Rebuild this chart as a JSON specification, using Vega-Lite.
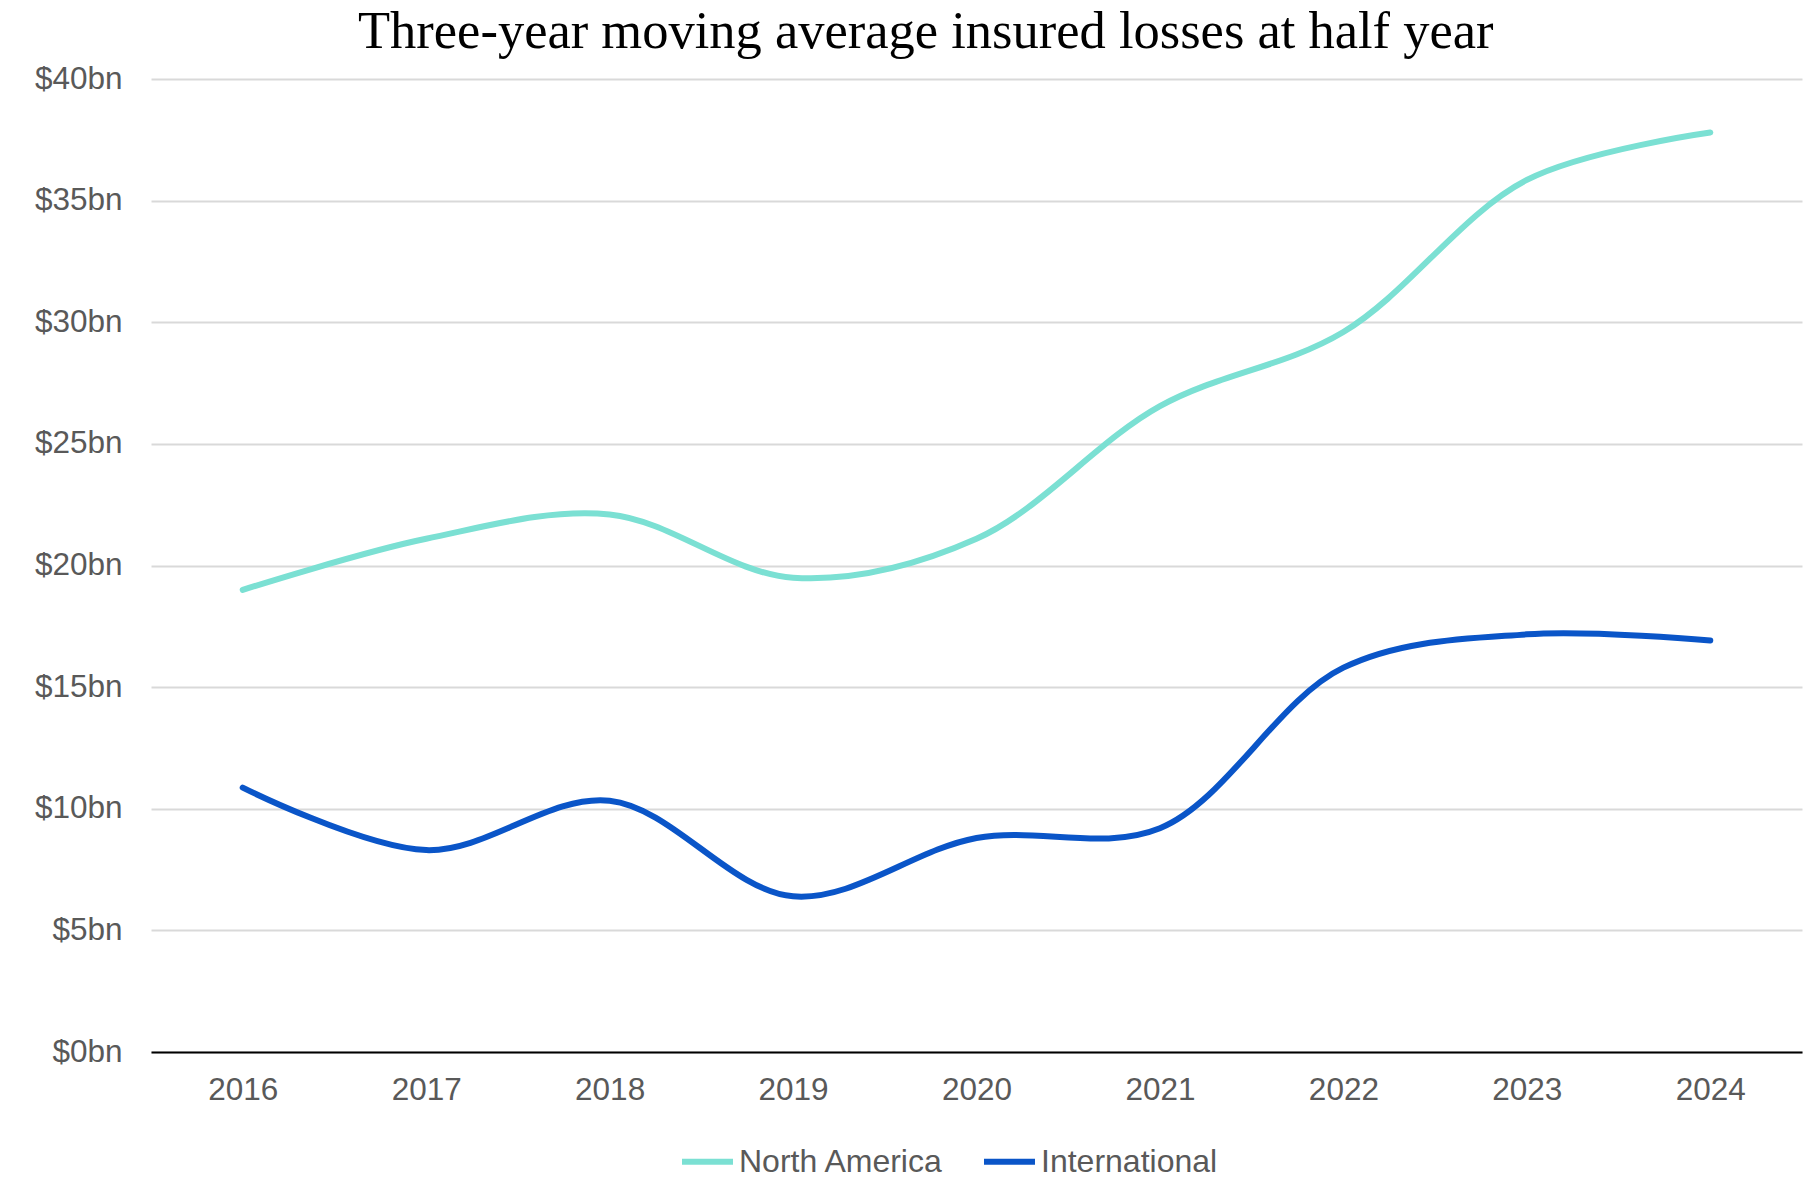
{
  "$schema": "https://vega.github.io/schema/vega-lite/v6.json",
  "width": 1651,
  "height": 973,
  "autosize": {"type": "none"},
  "padding": {"left": 151, "top": 79, "right": 11, "bottom": 128},
  "background": "white",
  "title": {
    "text": "Three-year moving average insured losses at half year",
    "font": "Liberation Serif",
    "fontSize": 52.5,
    "fontWeight": "normal",
    "color": "#000000",
    "anchor": "start",
    "frame": "group",
    "dx": 207,
    "offset": 4
  },
  "data": {
    "values": [
      {"year": "2016", "region": "North America", "value": 19.0},
      {"year": "2017", "region": "North America", "value": 21.1},
      {"year": "2018", "region": "North America", "value": 22.1},
      {"year": "2019", "region": "North America", "value": 19.5},
      {"year": "2020", "region": "North America", "value": 21.1},
      {"year": "2021", "region": "North America", "value": 26.55},
      {"year": "2022", "region": "North America", "value": 29.6},
      {"year": "2023", "region": "North America", "value": 35.85},
      {"year": "2024", "region": "North America", "value": 37.8},
      {"year": "2016", "region": "International", "value": 10.87},
      {"year": "2017", "region": "International", "value": 8.3},
      {"year": "2018", "region": "International", "value": 10.33},
      {"year": "2019", "region": "International", "value": 6.4},
      {"year": "2020", "region": "International", "value": 8.8},
      {"year": "2021", "region": "International", "value": 9.2},
      {"year": "2022", "region": "International", "value": 15.8},
      {"year": "2023", "region": "International", "value": 17.17},
      {"year": "2024", "region": "International", "value": 16.92}
    ]
  },
  "mark": {"type": "line", "interpolate": "catmull-rom", "strokeWidth": 6, "strokeCap": "round"},
  "encoding": {
    "x": {
      "field": "year",
      "type": "ordinal",
      "scale": {"type": "point", "padding": 0.5},
      "axis": {
        "title": null,
        "labelAngle": 0,
        "labelFont": "Liberation Sans",
        "labelFontSize": 31.5,
        "labelColor": "#595959",
        "labelPadding": 22,
        "ticks": false,
        "grid": false,
        "domainColor": "#000000",
        "domainWidth": 2,
        "zindex": 1
      }
    },
    "y": {
      "field": "value",
      "type": "quantitative",
      "scale": {"domain": [0, 40]},
      "axis": {
        "title": null,
        "values": [0, 5, 10, 15, 20, 25, 30, 35, 40],
        "labelExpr": "'$' + datum.value + 'bn'",
        "labelFont": "Liberation Sans",
        "labelFontSize": 31.5,
        "labelColor": "#595959",
        "labelPadding": 29,
        "ticks": false,
        "domain": false,
        "grid": true,
        "gridColor": "#d9d9d9",
        "gridWidth": 2
      }
    },
    "color": {
      "field": "region",
      "type": "nominal",
      "sort": ["North America", "International"],
      "scale": {"domain": ["North America", "International"], "range": ["#7BE0D3", "#0A55C8"]},
      "legend": {
        "title": null,
        "orient": "none",
        "legendX": 528,
        "legendY": 1054,
        "direction": "horizontal",
        "symbolType": "stroke",
        "symbolSize": 2600,
        "symbolStrokeWidth": 6,
        "labelFont": "Liberation Sans",
        "labelFontSize": 32,
        "labelColor": "#595959",
        "labelOffset": 3,
        "labelLimit": 0,
        "columnPadding": 28
      }
    }
  },
  "config": {"view": {"stroke": null}}
}
